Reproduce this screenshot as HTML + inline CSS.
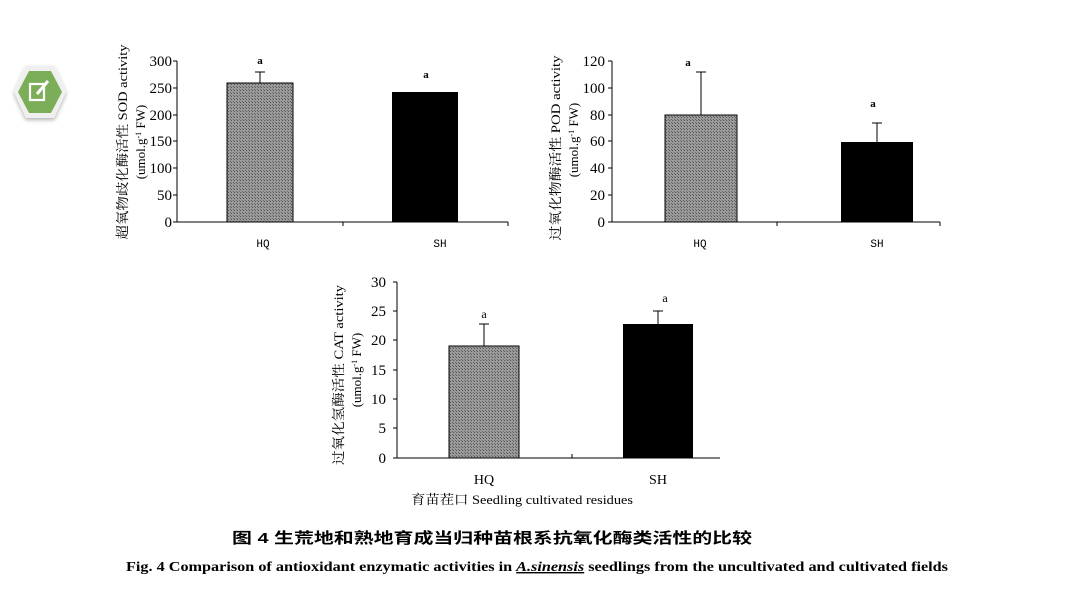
<!DOCTYPE html>
<html><head><meta charset="utf-8"><style>
html,body{margin:0;padding:0;background:#fff;}
svg{display:block;}
</style></head><body>
<svg width="1080" height="608" viewBox="0 0 1080 608" xmlns="http://www.w3.org/2000/svg" font-family="'Liberation Serif','Noto Serif CJK SC',serif">
<defs>
<pattern id="hp" width="3" height="3" patternUnits="userSpaceOnUse">
<rect width="3" height="3" fill="#9a9a9a"/><rect width="1" height="1" fill="#555"/><rect x="2" y="2" width="1" height="1" fill="#666"/>
</pattern>
<filter id="sh" x="-30%" y="-30%" width="160%" height="160%"><feDropShadow dx="0" dy="2" stdDeviation="2" flood-color="#000" flood-opacity="0.3"/></filter>
</defs>
<polygon points="14,92 26,66 54,66 66,92 54,118 26,118" fill="#f0f0f0" filter="url(#sh)"/>
<polygon points="18,92 29,71 51,71 62,92 51,113 29,113" fill="#7cae5a"/>
<rect x="30" y="84" width="14" height="16" fill="none" stroke="#fff" stroke-width="2.2"/>
<line x1="37" y1="94" x2="48" y2="81" stroke="#fff" stroke-width="3"/>

<g font-size="13" fill="#000">
<line x1="177" y1="61" x2="177" y2="222" stroke="#000"/>
<line x1="177" y1="222" x2="508" y2="222" stroke="#000"/>
<g stroke="#000">
<line x1="173" y1="61" x2="177" y2="61"/><line x1="173" y1="88" x2="177" y2="88"/><line x1="173" y1="115" x2="177" y2="115"/><line x1="173" y1="141" x2="177" y2="141"/><line x1="173" y1="168" x2="177" y2="168"/><line x1="173" y1="195" x2="177" y2="195"/><line x1="173" y1="222" x2="177" y2="222"/>
<line x1="343" y1="222" x2="343" y2="226"/><line x1="508" y1="222" x2="508" y2="226"/>
</g>
<g text-anchor="end" font-size="15">
<text x="172" y="66">300</text><text x="172" y="93">250</text><text x="172" y="120">200</text><text x="172" y="146">150</text><text x="172" y="173">100</text><text x="172" y="200">50</text><text x="172" y="227">0</text>
</g>
<rect x="227" y="83" width="66" height="139" fill="url(#hp)" stroke="#000"/>
<line x1="260" y1="83" x2="260" y2="72" stroke="#000"/><line x1="255" y1="72" x2="265" y2="72" stroke="#000"/>
<rect x="392" y="92" width="66" height="130" fill="#000"/>
<text x="260" y="64" text-anchor="middle" font-size="11" font-weight="bold">a</text>
<text x="426" y="78" text-anchor="middle" font-size="11" font-weight="bold">a</text>
<text x="263" y="247" text-anchor="middle" font-size="11" font-family="Liberation Mono,monospace">HQ</text>
<text x="440" y="247" text-anchor="middle" font-size="11" font-family="Liberation Mono,monospace">SH</text>
<text transform="translate(127,142) rotate(-90)" text-anchor="middle" font-size="13" textLength="195" lengthAdjust="spacingAndGlyphs">超氧物歧化酶活性 SOD activity</text>
<text transform="translate(145,142) rotate(-90)" text-anchor="middle" font-size="13">(umol.g<tspan font-size="8" dy="-4">-1</tspan><tspan dy="4"> FW)</tspan></text>
</g>

<g font-size="13" fill="#000">
<line x1="612" y1="61" x2="612" y2="222" stroke="#000"/>
<line x1="612" y1="222" x2="940" y2="222" stroke="#000"/>
<g stroke="#000">
<line x1="608" y1="61" x2="612" y2="61"/><line x1="608" y1="88" x2="612" y2="88"/><line x1="608" y1="115" x2="612" y2="115"/><line x1="608" y1="141" x2="612" y2="141"/><line x1="608" y1="168" x2="612" y2="168"/><line x1="608" y1="195" x2="612" y2="195"/><line x1="608" y1="222" x2="612" y2="222"/>
<line x1="777" y1="222" x2="777" y2="226"/><line x1="940" y1="222" x2="940" y2="226"/>
</g>
<g text-anchor="end" font-size="15">
<text x="605" y="66">120</text><text x="605" y="93">100</text><text x="605" y="120">80</text><text x="605" y="146">60</text><text x="605" y="173">40</text><text x="605" y="200">20</text><text x="605" y="227">0</text>
</g>
<rect x="665" y="115" width="72" height="107" fill="url(#hp)" stroke="#000"/>
<line x1="701" y1="115" x2="701" y2="72" stroke="#000"/><line x1="696" y1="72" x2="706" y2="72" stroke="#000"/>
<rect x="841" y="142" width="72" height="80" fill="#000"/>
<line x1="877" y1="142" x2="877" y2="123" stroke="#000"/><line x1="872" y1="123" x2="882" y2="123" stroke="#000"/>
<text x="688" y="66" text-anchor="middle" font-size="11" font-weight="bold">a</text>
<text x="873" y="107" text-anchor="middle" font-size="11" font-weight="bold">a</text>
<text x="700" y="247" text-anchor="middle" font-size="11" font-family="Liberation Mono,monospace">HQ</text>
<text x="877" y="247" text-anchor="middle" font-size="11" font-family="Liberation Mono,monospace">SH</text>
<text transform="translate(560,148) rotate(-90)" text-anchor="middle" font-size="13" textLength="185" lengthAdjust="spacingAndGlyphs">过氧化物酶活性 POD activity</text>
<text transform="translate(578,140) rotate(-90)" text-anchor="middle" font-size="13">(umol.g<tspan font-size="8" dy="-4">-1</tspan><tspan dy="4"> FW)</tspan></text>
</g>

<g font-size="13" fill="#000">
<line x1="397" y1="282" x2="397" y2="458" stroke="#000"/>
<line x1="397" y1="458" x2="720" y2="458" stroke="#000"/>
<g stroke="#000">
<line x1="393" y1="282" x2="397" y2="282"/><line x1="393" y1="311" x2="397" y2="311"/><line x1="393" y1="340" x2="397" y2="340"/><line x1="393" y1="370" x2="397" y2="370"/><line x1="393" y1="399" x2="397" y2="399"/><line x1="393" y1="428" x2="397" y2="428"/><line x1="393" y1="458" x2="397" y2="458"/>
<line x1="572" y1="454" x2="572" y2="458"/>
</g>
<g text-anchor="end" font-size="15">
<text x="386" y="287">30</text><text x="386" y="316">25</text><text x="386" y="345">20</text><text x="386" y="375">15</text><text x="386" y="404">10</text><text x="386" y="433">5</text><text x="386" y="463">0</text>
</g>
<rect x="449" y="346" width="70" height="112" fill="url(#hp)" stroke="#000"/>
<line x1="484" y1="346" x2="484" y2="324" stroke="#000"/><line x1="479" y1="324" x2="489" y2="324" stroke="#000"/>
<rect x="623" y="324" width="70" height="134" fill="#000"/>
<line x1="658" y1="324" x2="658" y2="311" stroke="#000"/><line x1="653" y1="311" x2="663" y2="311" stroke="#000"/>
<text x="484" y="318" text-anchor="middle" font-size="12">a</text>
<text x="665" y="302" text-anchor="middle" font-size="12">a</text>
<text x="484" y="484" text-anchor="middle" font-size="14">HQ</text>
<text x="658" y="484" text-anchor="middle" font-size="14">SH</text>
<text x="522" y="504" text-anchor="middle" font-size="13" textLength="222" lengthAdjust="spacingAndGlyphs">育苗茬口 Seedling cultivated residues</text>
<text transform="translate(343,375) rotate(-90)" text-anchor="middle" font-size="13" textLength="180" lengthAdjust="spacingAndGlyphs">过氧化氢酶活性 CAT activity</text>
<text transform="translate(361,370) rotate(-90)" text-anchor="middle" font-size="13">(umol.g<tspan font-size="8" dy="-4">-1</tspan><tspan dy="4"> FW)</tspan></text>
</g>

<text x="492" y="543" text-anchor="middle" font-size="15" font-weight="bold" font-family="'Liberation Sans','Noto Sans CJK SC',sans-serif" textLength="520" lengthAdjust="spacingAndGlyphs">图 4  生荒地和熟地育成当归种苗根系抗氧化酶类活性的比较</text>
<text x="537" y="571" text-anchor="middle" font-size="14" font-weight="bold" textLength="822" lengthAdjust="spacingAndGlyphs">Fig. 4    Comparison of antioxidant enzymatic activities in <tspan font-style="italic" text-decoration="underline">A.sinensis</tspan> seedlings from the uncultivated and cultivated fields</text>
</svg>
</body></html>
